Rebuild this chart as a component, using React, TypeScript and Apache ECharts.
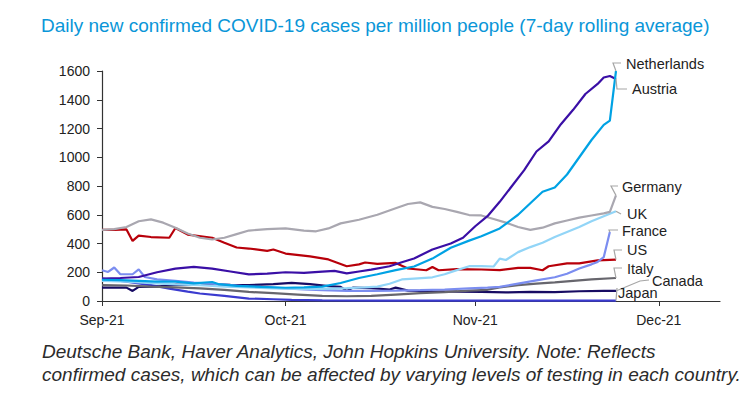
import React, { useEffect, useRef } from "react";
import * as echarts from "echarts";

// x values are days since 1 Sep 2021
const TICK_DAYS = [0, 30, 61, 91];
const TICK_LABELS = ["Sep-21", "Oct-21", "Nov-21", "Dec-21"];
const Y_TICKS_MAX = 1600;

const netherlands: [number, number][] = [
  [0, 148], [3, 145], [6, 140], [9, 135], [12, 135], [15, 122], [18, 132], [19, 118], [22, 105], [26, 98],
  [30, 92], [33, 95], [36, 100], [39, 125], [42, 160], [45, 186], [48, 215], [51, 240], [54, 295], [57, 370],
  [60, 420], [62, 450], [65, 505], [68, 600], [70, 680], [72, 760], [74, 790], [76, 880], [78, 1000], [80, 1120],
  [82, 1225], [83, 1255], [84, 1600],
];
const austria: [number, number][] = [
  [0, 155], [3, 160], [6, 167], [9, 200], [12, 225], [15, 237], [18, 225], [21, 205], [24, 185], [27, 190],
  [30, 200], [33, 195], [36, 205], [38, 210], [40, 192], [42, 205], [44, 218], [47, 242], [49, 270], [51, 296],
  [54, 358], [57, 400], [59, 440], [61, 520], [63, 590], [65, 690], [67, 800], [69, 910], [71, 1040], [73, 1110],
  [75, 1230], [77, 1330], [79, 1440], [81, 1510], [82, 1555], [83, 1565], [84, 1545],
];
const germany: [number, number][] = [
  [0, 495], [2, 500], [4, 515], [6, 555], [8, 568], [10, 545], [12, 510], [14, 470], [16, 440], [18, 428],
  [20, 440], [22, 465], [24, 490], [27, 500], [30, 505], [33, 490], [35, 485], [37, 505], [39, 540], [42, 565],
  [45, 600], [48, 645], [50, 675], [52, 686], [54, 655], [56, 640], [58, 620], [60, 598], [62, 595], [64, 570],
  [66, 545], [68, 515], [70, 495], [72, 510], [74, 540], [76, 560], [78, 580], [80, 595], [82, 610], [83, 620],
  [84, 735],
];
const uk: [number, number][] = [
  [0, 140], [4, 135], [8, 125], [12, 115], [16, 110], [20, 100], [24, 95], [28, 88], [32, 85], [36, 85],
  [40, 90], [43, 95], [45, 100], [47, 120], [49, 150], [51, 156], [54, 165], [56, 186], [58, 215], [60, 242],
  [62, 242], [64, 240], [65, 295], [66, 285], [68, 340], [70, 375], [72, 405], [74, 445], [76, 480], [78, 515],
  [80, 555], [82, 590], [84, 625],
];
const france: [number, number][] = [
  [0, 214], [1, 202], [2, 233], [3, 186], [5, 186], [6, 220], [7, 167], [9, 150], [12, 140], [15, 128],
  [18, 120], [21, 110], [24, 100], [27, 95], [30, 88], [33, 80], [36, 75], [40, 70], [44, 70], [48, 72],
  [52, 75], [56, 80], [60, 88], [63, 93], [65, 98], [68, 121], [71, 144], [74, 165], [76, 190], [78, 226],
  [80, 255], [81, 272], [82, 305], [83, 480],
];
const us: [number, number][] = [
  [0, 495], [2, 495], [4, 498], [5, 418], [6, 455], [8, 445], [11, 440], [12, 508], [14, 462], [18, 440],
  [20, 405], [22, 372], [24, 365], [27, 349], [28, 358], [30, 330], [34, 310], [37, 289], [40, 242], [42, 255],
  [43, 268], [45, 258], [48, 265], [50, 226], [53, 214], [54, 237], [55, 214], [58, 222], [62, 219], [65, 215],
  [68, 230], [70, 230], [72, 214], [73, 242], [76, 262], [78, 262], [81, 283], [84, 288],
];
const italy: [number, number][] = [
  [0, 110], [4, 108], [8, 100], [12, 95], [16, 88], [20, 78], [24, 63], [28, 55], [32, 45], [36, 35],
  [40, 33], [44, 35], [48, 45], [52, 55], [56, 62], [60, 72], [63, 78], [65, 95], [68, 110], [71, 121],
  [74, 130], [77, 140], [80, 150], [84, 160],
];
const canada: [number, number][] = [
  [0, 93], [4, 93], [5, 70], [6, 98], [9, 100], [12, 114], [15, 112], [18, 115], [21, 112], [24, 110],
  [28, 118], [31, 126], [34, 118], [37, 103], [39, 98], [40, 70], [41, 93], [44, 90], [47, 80], [48, 93],
  [50, 72], [54, 68], [58, 65], [62, 63], [66, 60], [70, 63], [74, 62], [78, 68], [82, 70], [84, 70],
];
const japan: [number, number][] = [
  [0, 156], [4, 135], [8, 110], [11, 86], [14, 65], [16, 52], [20, 35], [24, 17], [28, 12], [31, 8],
  [36, 5], [45, 3], [60, 2], [84, 2],
];

const SERIES_NAMES = ["Netherlands", "Austria", "Germany", "UK", "France", "US", "Italy", "Canada", "Japan"];
const SERIES_DATA = [netherlands, austria, germany, uk, france, us, italy, canada, japan];
const SERIES_COLORS = ["#00a2e4", "#3a0fa6", "#a9a7b0", "#92d5f7", "#7b8df0", "#b8000a", "#67666d", "#170b63", "#3b3bcf"];

// label placement (pixels) and connector knees
const LABEL_POS: Record<string, { x: number; y: number; pts: [number, number][] }> = {
  Netherlands: { x: 626, y: 64, pts: [[613, 63], [621, 63]] },
  Austria: { x: 632, y: 89, pts: [[617, 89], [627, 89]] },
  Germany: { x: 622, y: 187, pts: [[611, 186], [618, 186]] },
  UK: { x: 627, y: 214, pts: [[621, 214]] },
  France: { x: 622, y: 231, pts: [[609, 230], [618, 230]] },
  US: { x: 627, y: 250, pts: [[614, 250], [622, 250]] },
  Italy: { x: 627, y: 269, pts: [[614, 268], [622, 268]] },
  Canada: { x: 652, y: 281, pts: [[640, 281], [649, 280]] },
  Japan: { x: 618, y: 293, pts: [[617, 288]] },
};

const TITLE = "Daily new confirmed COVID-19 cases per million people (7-day rolling average)";
const FOOT1 = "Deutsche Bank, Haver Analytics, John Hopkins University. Note: Reflects";
const FOOT2 = "confirmed cases, which can be affected by varying levels of testing in each country.";

export default function App() {
  const ref = useRef<HTMLDivElement>(null);
  useEffect(() => {
    document.body.style.margin = "0";
    const chart = echarts.init(ref.current!, null, { renderer: "svg" });
    const font = "'Liberation Sans', Arial, Helvetica, sans-serif";
    chart.setOption({
      animation: false,
      backgroundColor: "#ffffff",
      textStyle: { fontFamily: font },
      grid: { left: 102, right: 35, top: 71, bottom: 94, containLabel: false },
      xAxis: {
        type: "value",
        min: 0,
        max: 101,
        splitLine: { show: false },
        axisLine: { lineStyle: { color: "#333", width: 1.2 } },
        axisTick: { customValues: TICK_DAYS, length: 5, lineStyle: { color: "#333" } },
        axisLabel: {
          customValues: TICK_DAYS,
          formatter: (v: number) => TICK_LABELS[TICK_DAYS.indexOf(v)] ?? "",
          color: "#222",
          fontSize: 14,
          margin: 12,
          fontFamily: font,
        },
      },
      yAxis: {
        type: "value",
        min: 0,
        max: Y_TICKS_MAX,
        interval: 200,
        splitLine: { show: false },
        axisLine: { show: true, lineStyle: { color: "#333", width: 1.2 } },
        axisTick: { show: true, length: 5, lineStyle: { color: "#333" } },
        axisLabel: {
          color: "#222",
          fontSize: 14,
          margin: 12,
          fontFamily: font,
          formatter: (v: number) => String(v),
        },
      },
      series: SERIES_NAMES.map((name, i) => ({
        name,
        type: "line",
        data: SERIES_DATA[i],
        showSymbol: false,
        symbol: "none",
        lineStyle: { color: SERIES_COLORS[i], width: 2.2 },
        itemStyle: { color: SERIES_COLORS[i] },
        z: 10 - i,
      })),
    });

    const graphics: any[] = [
      {
        type: "text",
        x: 41,
        y: 25,
        style: { text: TITLE, fill: "#0a96d8", fontSize: 19, fontFamily: font, verticalAlign: "middle" },
      },
      {
        type: "text",
        x: 42,
        y: 351,
        style: { text: FOOT1, fill: "#2b2b2b", fontSize: 19, fontStyle: "italic", fontFamily: font, verticalAlign: "middle" },
      },
      {
        type: "text",
        x: 42,
        y: 374,
        style: { text: FOOT2, fill: "#2b2b2b", fontSize: 19, fontStyle: "italic", fontFamily: font, verticalAlign: "middle" },
      },
    ];
    SERIES_NAMES.forEach((name, i) => {
      const d = SERIES_DATA[i];
      const last = d[d.length - 1];
      const end = chart.convertToPixel({ gridIndex: 0 }, last) as number[];
      const lp = LABEL_POS[name];
      graphics.push({
        type: "polyline",
        shape: { points: [[end[0], end[1]], ...lp.pts] },
        style: { stroke: "#a6a6a6", lineWidth: 1.2, fill: null },
        z: 20,
      });
      graphics.push({
        type: "text",
        x: lp.x,
        y: lp.y,
        style: { text: name, fill: "#222", fontSize: 14.5, fontFamily: font, verticalAlign: "middle" },
        z: 21,
      });
    });
    chart.setOption({ graphic: graphics });
    return () => chart.dispose();
  }, []);
  return <div ref={ref} style={{ position: "absolute", left: 0, top: 0, width: 755, height: 395 }} />;
}
